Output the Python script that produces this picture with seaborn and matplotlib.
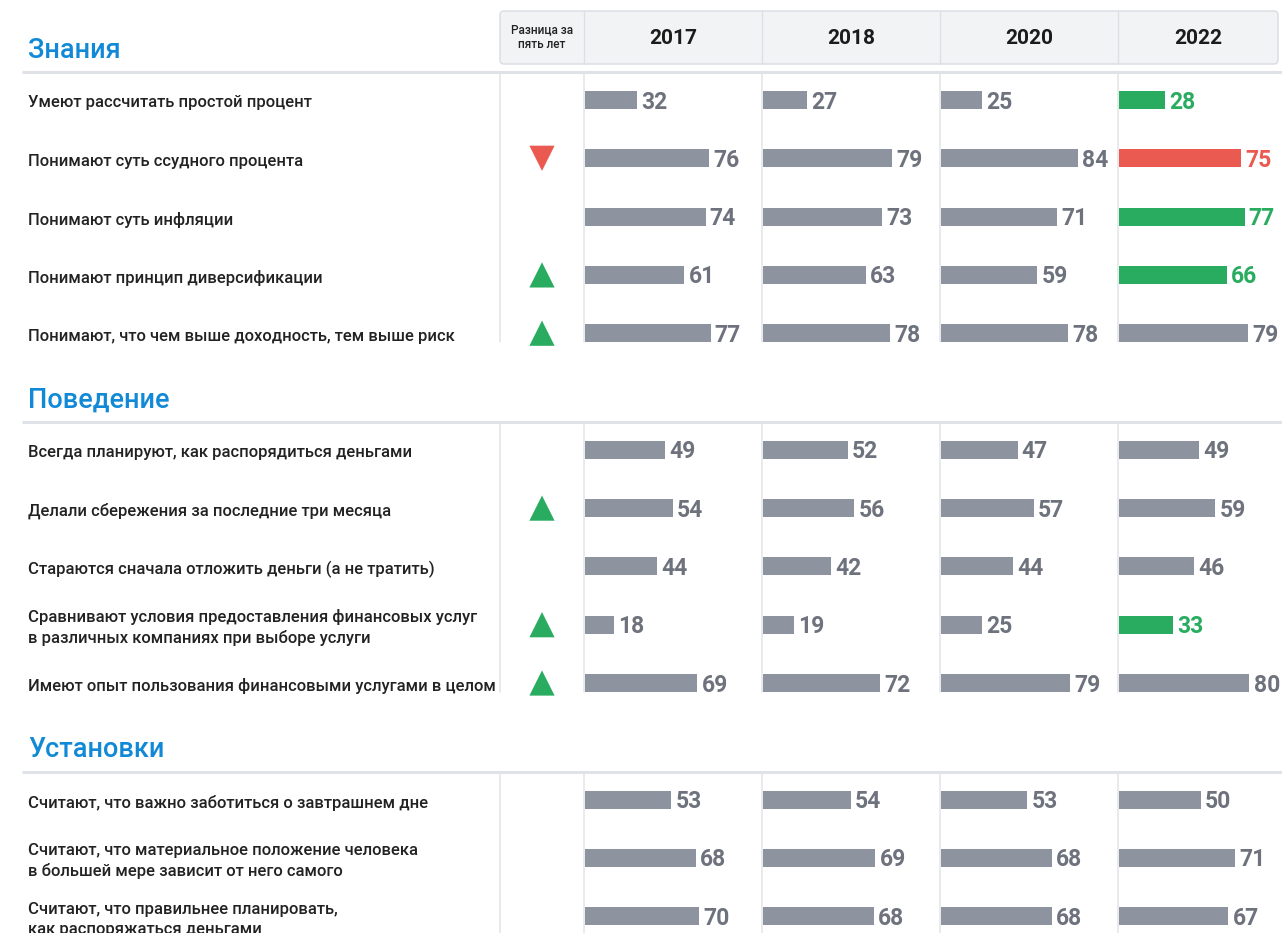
import matplotlib
matplotlib.use("Agg")
import pandas as pd
import matplotlib.pyplot as plt
import matplotlib.colors as mcolors
from matplotlib.patches import FancyBboxPatch
import seaborn as sns

# --- data ---
section_titles = ["Знания", "Поведение", "Установки"]
knowledge_items = [
    "Умеют рассчитать простой процент",
    "Понимают суть ссудного процента",
    "Понимают суть инфляции",
    "Понимают принцип диверсификации",
    "Понимают, что чем выше доходность, тем выше риск",
]
behaviour_items = [
    "Всегда планируют, как распорядиться деньгами",
    "Делали сбережения за последние три месяца",
    "Стараются сначала отложить деньги (а не тратить)",
    "Сравнивают условия предоставления финансовых услуг\nв различных компаниях при выборе услуги",
    "Имеют опыт пользования финансовыми услугами в целом",
]
attitude_items = [
    "Считают, что важно заботиться о завтрашнем дне",
    "Считают, что материальное положение человека\nв большей мере зависит от него самого",
    "Считают, что правильнее планировать,\nкак распоряжаться деньгами",
]
years = ["2017", "2018", "2020", "2022"]
values_2017 = [32, 76, 74, 61, 77, 49, 54, 44, 18, 69, 53, 68, 70]
values_2018 = [27, 79, 73, 63, 78, 52, 56, 42, 19, 72, 54, 69, 68]
values_2020 = [25, 84, 71, 59, 78, 47, 57, 44, 25, 79, 53, 68, 68]
values_2022 = [28, 75, 77, 66, 79, 49, 59, 46, 33, 80, 50, 71, 67]
# change over five years (arrow column)
trend = ["", "down", "", "up", "up", "", "up", "", "up", "up", "", "", ""]
# highlighted bars in the 2022 column
marks_2022 = ["up", "down", "up", "up", "", "", "", "", "up", "", "", "", ""]

GRAY = "#8e949f"
GREEN = "#2aac60"
RED = "#ea5a51"
BLUE = "#1189d6"
NUM_GRAY = "#6d727d"
LINE = "#e1e4e9"
bar_colors = {"base": GRAY, "up": GREEN, "down": RED}
label_colors = {mcolors.to_hex(GRAY): NUM_GRAY, mcolors.to_hex(GREEN): GREEN,
                mcolors.to_hex(RED): RED}

# --- layout (pixels) ---
W, H = 1282, 933
ROW0, STEP = 100, 58.3
PX_PER_UNIT = 1.63
col_left = [584, 762, 940, 1118]
col_right = [762, 940, 1118, 1282]

sns.set_theme(style="white")
plt.rcParams["font.family"] = ["Roboto", "DejaVu Sans"]

sections = [knowledge_items, behaviour_items, attitude_items]
order = []
for s, items in enumerate(sections):
    if s:
        order.append(" " * s)  # empty slot between sections
    order.extend(items)
all_items = [name for items in sections for name in items]
slot = {name: order.index(name) for name in all_items}


def px(k):
    return ROW0 + STEP * k


ylim = ((H - ROW0) / STEP, -ROW0 / STEP)

rows = []
for y, vals in zip(years, [values_2017, values_2018, values_2020, values_2022]):
    for i, (name, v) in enumerate(zip(all_items, vals)):
        state = (marks_2022[i] or "base") if y == "2022" else "base"
        rows.append({"item": name, "year": y, "value": v, "state": state})
df = pd.DataFrame(rows)

fig = plt.figure(figsize=(W / 100, H / 100), dpi=100)
bg = fig.add_axes([0, 0, 1, 1])
bg.set_xlim(0, W)
bg.set_ylim(H, 0)
bg.axis("off")

# header
bg.add_patch(FancyBboxPatch((500, 11), 778, 53, boxstyle="round,pad=0,rounding_size=4",
                            fc="#f2f3f5", ec="#d9dce1", lw=1))
for x in col_left:
    bg.plot([x, x], [11, 64], color="#dcdfe4", lw=1)
for y, l, r in zip(years, col_left, [762, 940, 1118, 1278]):
    bg.text((l + r) / 2, 39, y, ha="center", va="center", fontsize=15,
            fontweight="bold", color="#1b1b1b")
bg.text(542, 37, "Разница за\nпять лет", ha="center", va="center", fontsize=8.5,
        fontweight="medium", color="#222222", linespacing=1.25)

# sections: titles, separators, column lines
for s, (title, items) in enumerate(zip(section_titles, sections)):
    first = slot[items[0]]
    last = slot[items[-1]]
    bg.text(28, px(first) - 50, title, ha="left", va="center", fontsize=19.5,
            fontweight="medium", color=BLUE)
    sep = px(first) - 28
    bg.plot([22, W], [sep, sep], color="#dfe2e7", lw=2.2, solid_capstyle="butt")
    end = H if s == len(sections) - 1 else px(last) + 9
    for x in [500] + col_left:
        bg.plot([x, x], [sep + 1.5, end], color=LINE, lw=1.1)

for name in all_items:
    bg.text(28, px(slot[name]) + 3, name, ha="left", va="center", fontsize=12,
            fontweight="medium", color="#222222", linespacing=1.4)

# bars per year column
for y, l, r in zip(years, col_left, col_right):
    ax = fig.add_axes([(l + 1) / W, 0, (r - l - 1) / W, 1])
    ax.set_facecolor("none")
    sns.barplot(data=df[df["year"] == y], x="value", y="item", order=order,
                hue="state", hue_order=["base", "up", "down"], palette=bar_colors,
                dodge=False, width=0.31, saturation=1, errorbar=None,
                legend=False, orient="h", linewidth=0, ax=ax)
    for cont in ax.containers:
        if len(cont) == 0:
            continue
        c = label_colors.get(mcolors.to_hex(cont[0].get_facecolor()), NUM_GRAY)
        texts = ax.bar_label(cont, fmt="{:.0f}", padding=3, fontsize=16.5,
                             fontweight="bold", color=c)
        for t in texts:
            t.xyann = (3, -1.5)
    ax.set_xlim(0, (r - l - 1) / PX_PER_UNIT)
    ax.set_ylim(*ylim)
    ax.axis("off")

# arrow column
tr = pd.DataFrame({"slot": [slot[n] for n, t in zip(all_items, trend) if t],
                   "trend": [t for t in trend if t]})
tr["x"] = 0.5
axm = fig.add_axes([500 / W, 0, 84 / W, 1])
axm.set_facecolor("none")
sns.scatterplot(data=tr, x="x", y="slot", hue="trend", style="trend",
                markers={"up": "^", "down": "v"}, palette={"up": GREEN, "down": RED},
                s=330, linewidth=0, legend=False, ax=axm)
axm.set_xlim(0, 1)
axm.set_ylim(*ylim)
axm.axis("off")

fig.savefig("out.png", dpi=100)
